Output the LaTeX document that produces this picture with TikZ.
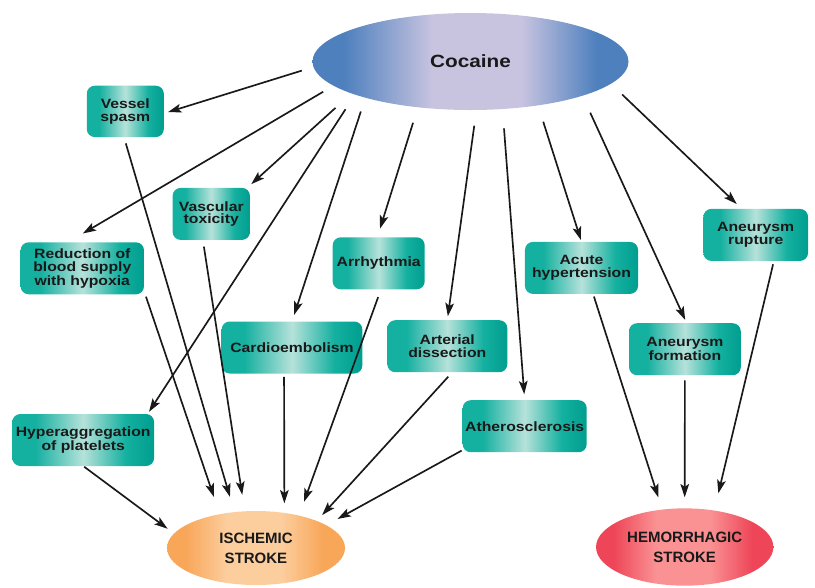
\documentclass[tikz,border=0pt]{standalone}
\usepackage{fontspec}
\usetikzlibrary{shapes.geometric,arrows.meta}

\newfontfamily\boxfont{Liberation Sans}[FakeStretch=1.17]
\newfontfamily\ovalfont{Liberation Sans}

\definecolor{boxteal}{RGB}{20,176,160}
\definecolor{boxlight}{RGB}{182,226,218}
\definecolor{boxdark}{RGB}{0,158,143}
\definecolor{cocblue}{RGB}{78,128,190}
\definecolor{coclav}{RGB}{200,196,224}
\definecolor{isorange}{RGB}{248,166,88}
\definecolor{islight}{RGB}{252,206,158}
\definecolor{hemred}{RGB}{238,70,88}
\definecolor{hemlight}{RGB}{250,146,148}

\pgfdeclarehorizontalshading{boxshade}{100bp}{color(0bp)=(boxteal); color(25bp)=(boxteal); color(33bp)=(boxteal); color(50bp)=(boxlight); color(65bp)=(boxteal); color(75bp)=(boxdark); color(100bp)=(boxdark)}
\pgfdeclarehorizontalshading{cocshade}{100bp}{color(0bp)=(cocblue); color(25bp)=(cocblue); color(30bp)=(cocblue); color(44bp)=(coclav); color(58bp)=(coclav); color(70bp)=(cocblue); color(75bp)=(cocblue); color(100bp)=(cocblue)}
\pgfdeclarehorizontalshading{isshade}{100bp}{color(0bp)=(isorange); color(25bp)=(isorange); color(30bp)=(isorange); color(42bp)=(islight); color(57bp)=(islight); color(69bp)=(isorange); color(75bp)=(isorange); color(100bp)=(isorange)}
\pgfdeclarehorizontalshading{hemshade}{100bp}{color(0bp)=(hemred); color(25bp)=(hemred); color(30bp)=(hemred); color(42bp)=(hemlight); color(57bp)=(hemlight); color(69bp)=(hemred); color(75bp)=(hemred); color(100bp)=(hemred)}

\tikzset{
  cause/.style={rectangle, rounded corners=6pt, shading=boxshade, inner sep=0pt, outer sep=0pt,
    minimum height=39pt, align=center, text=black!90,
    font=\boxfont\bfseries\fontsize{10.1pt}{9.4pt}\selectfont},
  stroke/.style={ellipse, inner sep=0pt, outer sep=0pt, align=center, text=black!90,
    font=\ovalfont\bfseries\fontsize{11.25pt}{15pt}\selectfont},
  arr/.style={-{Stealth[length=10pt,width=6.5pt,inset=2.2pt]}, line width=1.25pt, black!90}
}

\begin{document}
\begin{tikzpicture}[x=0.75pt,y=-0.75pt]

\useasboundingbox (0,0) rectangle (815,587);

\node[ellipse, shading=cocshade, inner sep=0pt, outer sep=0pt, minimum width=237pt, minimum height=72.75pt,
  text=black!90, font=\boxfont\bfseries\fontsize{13.3pt}{15pt}\selectfont] (coc) at (470.5,61.5) {Cocaine};

\node[cause, minimum width=57.8pt, minimum height=38.5pt] (vs) at (125.3,111.4) {Vessel\\spasm};
\node[cause, minimum width=58pt] (vt) at (211.3,213.9) {Vascular\\toxicity};
\node[cause, minimum width=92.5pt] (red) at (82.3,268.3) {Reduction of\\blood supply\\with hypoxia};
\node[cause, minimum width=69pt] (ar) at (378.7,263.3) {Arrhythmia};
\node[cause, minimum width=105.5pt] (ce) at (292,347.5) {Cardioembolism};
\node[cause, minimum width=90pt] (ad) at (447.3,346.2) {Arterial\\dissection};
\node[cause, minimum width=84.8pt] (ah) at (581.5,267.9) {Acute\\hypertension};
\node[cause, minimum width=78.5pt] (rp) at (755.7,234.9) {Aneurysm\\rupture};
\node[cause, minimum width=83.8pt] (af) at (684.9,349.2) {Aneurysm\\formation};
\node[cause, minimum width=93pt] (at) at (524.7,426.2) {Atherosclerosis};
\node[cause, minimum width=106.3pt] (hp) at (83.2,440) {Hyperaggregation\\of platelets};

\node[stroke, shading=isshade, minimum width=133.5pt, minimum height=55.5pt] (isc) at (256,548) {ISCHEMIC\\STROKE};
\node[stroke, shading=hemshade, minimum width=133pt, minimum height=58pt] (hem) at (684.7,547) {HEMORRHAGIC\\STROKE};

% cocaine -> mechanisms
\draw[arr, shorten <=9.2pt, shorten >=3.3pt] (coc.182.8) -- (vs.357);
\draw[arr, shorten <=9pt, shorten >=13pt] (coc.190.9) -- (red.119);
\draw[arr, shorten <=16.2pt, shorten >=4.2pt] (coc.195.6) -- (vt.36);
\draw[arr, shorten <=13.1pt, shorten >=2pt] (coc.196.7) -- (hp.22);
\draw[arr, shorten <=10.9pt, shorten >=5.3pt] (coc.199.3) -- (ce.north);
\draw[arr, shorten <=12.2pt, shorten >=6.8pt] (coc.221.1) -- (ar.93);
\draw[arr, shorten <=11.9pt, shorten >=3pt] (coc.277) -- (ad.north);
\draw[arr, shorten <=14.6pt, shorten >=4.5pt] (coc.304.8) -- (at.north);
\draw[arr, shorten <=12.9pt, shorten >=1.5pt] (coc.327.1) -- (ah.north);
\draw[arr, shorten <=14pt, shorten >=2.7pt] (coc.343.5) -- (af.86);
\draw[arr, shorten <=11.6pt, shorten >=5.3pt] (coc.351.2) -- (rp.118);

% mechanisms -> ischemic stroke
\draw[arr, shorten <=0.9pt, shorten >=6pt] (hp.south) -- (isc.170.9);
\draw[arr, shorten <=4.7pt, shorten >=13.7pt] (red.340.6) -- (isc.137.9);
\draw[arr, shorten <=4.9pt, shorten >=11.9pt] (vs.267) -- (isc.121);
\draw[arr, shorten <=5.1pt, shorten >=12.5pt] (vt.252) -- (isc.107.4);
\draw[arr, shorten <=2.5pt, shorten >=7.2pt] (ce.253.4) -- (isc.51.1);
\draw[arr, shorten <=6.2pt, shorten >=11pt] (ar.275) -- (isc.37.6);
\draw[arr, shorten <=4.5pt, shorten >=6pt] (ad.281) -- (isc.24.2);
\draw[arr, shorten <=0.9pt, shorten >=9.8pt] (at.201) -- (isc.18.7);

% mechanisms -> hemorrhagic stroke
\draw[arr, shorten <=2.1pt, shorten >=9.7pt] (ah.294.6) -- (hem.121);
\draw[arr, shorten <=3.8pt, shorten >=8.3pt] (af.south) -- (hem.north);
\draw[arr, shorten <=2.6pt, shorten >=13.3pt] (rp.305.4) -- (hem.51);

\end{tikzpicture}
\end{document}
